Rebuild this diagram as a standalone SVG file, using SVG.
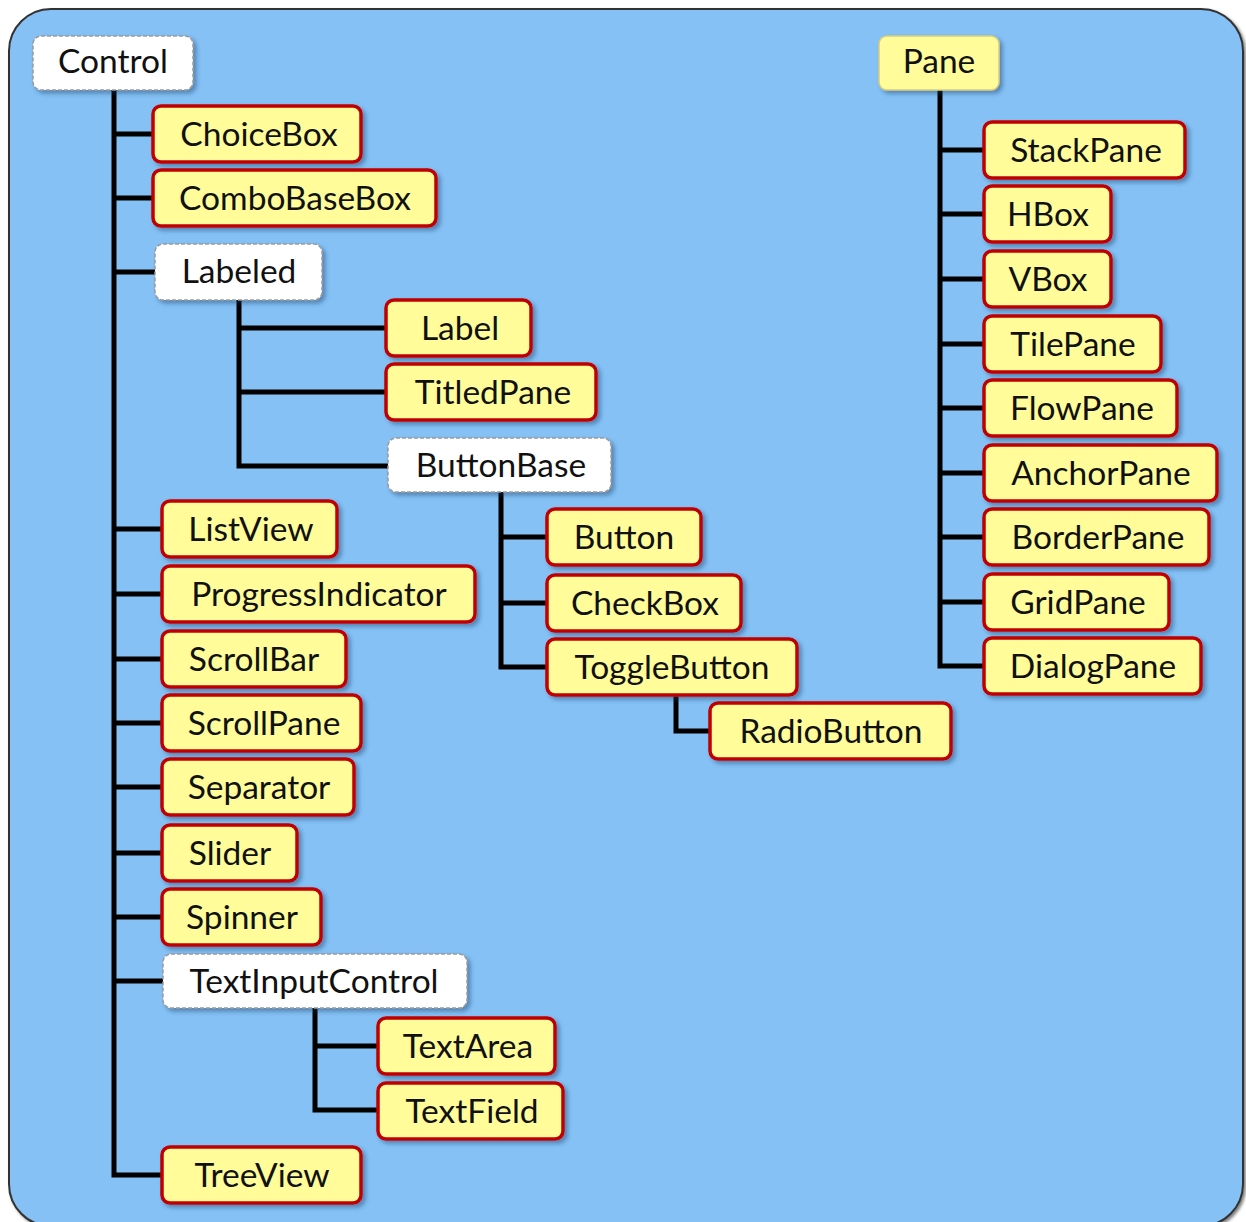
<svg xmlns="http://www.w3.org/2000/svg" width="1246" height="1222" viewBox="0 0 1246 1222">
  <defs>
    <filter id="shadow" x="-10%" y="-20%" width="130%" height="160%">
      <feDropShadow dx="3" dy="3" stdDeviation="2" flood-color="#1a3a66" flood-opacity="0.45"/>
    </filter>
    <filter id="panelShadow" x="-5%" y="-5%" width="110%" height="110%">
      <feDropShadow dx="2" dy="2" stdDeviation="1.5" flood-color="#000" flood-opacity="0.5"/>
    </filter>
  </defs>
  <style>
    .leaf rect { fill: #FFFC99; stroke: #C00000; stroke-width: 3.5; }
    .abstract rect { fill: #FFFFFF; stroke: #9A9A9A; stroke-width: 1.5; stroke-dasharray: 4 2; }
    .root rect { fill: #FFFC99; stroke: #D8CC80; stroke-width: 1.5; }
    .node rect { filter: url(#shadow); }
    .node text { font-family: Lato, "Liberation Sans", sans-serif; font-size: 33.5px; fill: #111; text-anchor: middle; }
    #connectors path { fill: none; stroke: #000; stroke-width: 5; stroke-linejoin: miter; }
  </style>

  <!-- background panel -->
  <rect x="9" y="9" width="1234" height="1217" rx="42" fill="#85C1F5" stroke="#333" stroke-width="2" filter="url(#panelShadow)"/>

  <!-- tree connectors -->
  <g id="connectors">
    <!-- Control children -->
    <path d="M114 90 V1175 H162"/>
    <path d="M114 134 H153"/>
    <path d="M114 198 H153"/>
    <path d="M114 272 H155"/>
    <path d="M114 529 H162"/>
    <path d="M114 594 H162"/>
    <path d="M114 659 H162"/>
    <path d="M114 723 H162"/>
    <path d="M114 787 H162"/>
    <path d="M114 853 H162"/>
    <path d="M114 917 H162"/>
    <path d="M114 981 H163"/>
    <!-- Labeled children -->
    <path d="M239 300 V466 H388"/>
    <path d="M239 328 H386"/>
    <path d="M239 392 H386"/>
    <!-- ButtonBase children -->
    <path d="M501 492 V667 H547"/>
    <path d="M501 537 H547"/>
    <path d="M501 603 H547"/>
    <!-- ToggleButton child -->
    <path d="M676 695 V731 H710"/>
    <!-- TextInputControl children -->
    <path d="M315 1008 V1110 H378"/>
    <path d="M315 1046 H378"/>
    <!-- Pane children -->
    <path d="M940 90 V666 H984"/>
    <path d="M940 150 H984"/>
    <path d="M940 214 H984"/>
    <path d="M940 279 H984"/>
    <path d="M940 344 H984"/>
    <path d="M940 408 H984"/>
    <path d="M940 473 H984"/>
    <path d="M940 537 H984"/>
    <path d="M940 602 H984"/>
  </g>

  <!-- Control hierarchy -->
  <g id="n-control" class="node abstract"><rect x="33" y="36" width="160" height="54" rx="8"/><text x="113" y="73">Control</text></g>
  <g id="n-choicebox" class="node leaf"><rect x="153" y="106" width="208" height="56" rx="8"/><text x="259" y="146">ChoiceBox</text></g>
  <g id="n-combobasebox" class="node leaf"><rect x="153" y="170" width="283" height="56" rx="8"/><text x="295" y="210">ComboBaseBox</text></g>
  <g id="n-labeled" class="node abstract"><rect x="155" y="244" width="167" height="56" rx="8"/><text x="239" y="283">Labeled</text></g>
  <g id="n-label" class="node leaf"><rect x="386" y="300" width="145" height="56" rx="8"/><text x="460" y="340">Label</text></g>
  <g id="n-titledpane" class="node leaf"><rect x="386" y="364" width="210" height="56" rx="8"/><text x="493" y="404">TitledPane</text></g>
  <g id="n-buttonbase" class="node abstract"><rect x="388" y="438" width="223" height="54" rx="8"/><text x="501" y="477">ButtonBase</text></g>
  <g id="n-button" class="node leaf"><rect x="547" y="509" width="154" height="56" rx="8"/><text x="624" y="549">Button</text></g>
  <g id="n-checkbox" class="node leaf"><rect x="547" y="575" width="194" height="56" rx="8"/><text x="645" y="615">CheckBox</text></g>
  <g id="n-togglebutton" class="node leaf"><rect x="547" y="639" width="250" height="56" rx="8"/><text x="672" y="679">ToggleButton</text></g>
  <g id="n-radiobutton" class="node leaf"><rect x="710" y="703" width="241" height="56" rx="8"/><text x="831" y="743">RadioButton</text></g>
  <g id="n-listview" class="node leaf"><rect x="162" y="501" width="175" height="56" rx="8"/><text x="251" y="541">ListView</text></g>
  <g id="n-progressindicator" class="node leaf"><rect x="162" y="566" width="313" height="56" rx="8"/><text x="319" y="606">ProgressIndicator</text></g>
  <g id="n-scrollbar" class="node leaf"><rect x="162" y="631" width="184" height="56" rx="8"/><text x="254" y="671">ScrollBar</text></g>
  <g id="n-scrollpane" class="node leaf"><rect x="162" y="695" width="199" height="56" rx="8"/><text x="264" y="735">ScrollPane</text></g>
  <g id="n-separator" class="node leaf"><rect x="162" y="759" width="192" height="56" rx="8"/><text x="259" y="799">Separator</text></g>
  <g id="n-slider" class="node leaf"><rect x="162" y="825" width="135" height="56" rx="8"/><text x="230" y="865">Slider</text></g>
  <g id="n-spinner" class="node leaf"><rect x="162" y="889" width="159" height="56" rx="8"/><text x="242" y="929">Spinner</text></g>
  <g id="n-textinputcontrol" class="node abstract"><rect x="163" y="954" width="304" height="54" rx="8"/><text x="314" y="993">TextInputControl</text></g>
  <g id="n-textarea" class="node leaf"><rect x="378" y="1018" width="177" height="56" rx="8"/><text x="468" y="1058">TextArea</text></g>
  <g id="n-textfield" class="node leaf"><rect x="378" y="1083" width="185" height="56" rx="8"/><text x="472" y="1123">TextField</text></g>
  <g id="n-treeview" class="node leaf"><rect x="162" y="1147" width="199" height="56" rx="8"/><text x="262" y="1187">TreeView</text></g>

  <!-- Pane hierarchy -->
  <g id="n-pane" class="node root"><rect x="879" y="36" width="120" height="54" rx="8"/><text x="939" y="73">Pane</text></g>
  <g id="n-stackpane" class="node leaf"><rect x="984" y="122" width="201" height="56" rx="8"/><text x="1086" y="162">StackPane</text></g>
  <g id="n-hbox" class="node leaf"><rect x="984" y="186" width="127" height="56" rx="8"/><text x="1048" y="226">HBox</text></g>
  <g id="n-vbox" class="node leaf"><rect x="984" y="251" width="127" height="56" rx="8"/><text x="1048" y="291">VBox</text></g>
  <g id="n-tilepane" class="node leaf"><rect x="984" y="316" width="177" height="56" rx="8"/><text x="1073" y="356">TilePane</text></g>
  <g id="n-flowpane" class="node leaf"><rect x="984" y="380" width="193" height="56" rx="8"/><text x="1082" y="420">FlowPane</text></g>
  <g id="n-anchorpane" class="node leaf"><rect x="984" y="445" width="233" height="56" rx="8"/><text x="1101" y="485">AnchorPane</text></g>
  <g id="n-borderpane" class="node leaf"><rect x="984" y="509" width="225" height="56" rx="8"/><text x="1098" y="549">BorderPane</text></g>
  <g id="n-gridpane" class="node leaf"><rect x="984" y="574" width="185" height="56" rx="8"/><text x="1078" y="614">GridPane</text></g>
  <g id="n-dialogpane" class="node leaf"><rect x="984" y="638" width="217" height="56" rx="8"/><text x="1093" y="678">DialogPane</text></g>
</svg>
